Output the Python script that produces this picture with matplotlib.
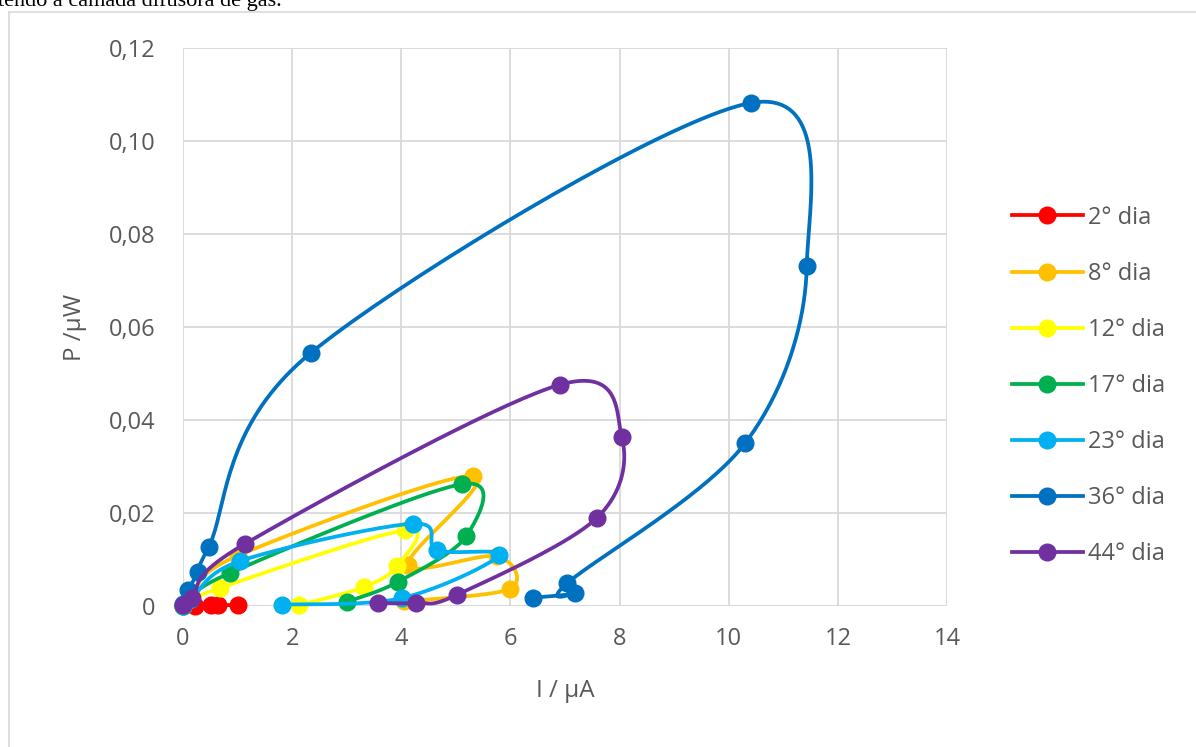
import matplotlib
matplotlib.use("Agg")
import matplotlib.pyplot as plt
import numpy as np
from matplotlib.lines import Line2D
from matplotlib.ticker import FuncFormatter

# series (I / uA, P / uW), in drawing order
i_2 = [0.0, 0.22, 0.52, 0.65, 1.0]
p_2 = [0.0, 0.0001, 0.0002, 0.0002, 0.0002]

i_8 = [0.0, 0.15, 1.0, 5.31, 4.13, 5.75, 5.99, 4.05]
p_8 = [0.0, 0.002, 0.0108, 0.0280, 0.0089, 0.0107, 0.0037, 0.0010]

i_12 = [0.0, 0.68, 4.07, 3.92, 3.32, 2.13]
p_12 = [0.0, 0.0039, 0.0163, 0.0086, 0.0041, 0.0002]

i_17 = [0.0, 0.86, 5.11, 5.19, 3.94, 3.0]
p_17 = [0.0, 0.0071, 0.0262, 0.0150, 0.0052, 0.0009]

i_23 = [0.0, 0.15, 1.05, 4.21, 4.65, 5.79, 4.01, 1.81]
p_23 = [0.0, 0.0015, 0.0097, 0.0177, 0.0120, 0.0109, 0.0017, 0.0003]

i_36 = [0.0, 0.09, 0.28, 0.47, 2.34, 10.41, 11.43, 10.3, 7.04, 7.18, 6.41]
p_36 = [0.0005, 0.0034, 0.0073, 0.0127, 0.0544, 0.1082, 0.0731, 0.0350, 0.0049, 0.0028, 0.0018]

i_44 = [0.0, 0.16, 1.14, 6.91, 8.04, 7.58, 5.02, 4.27, 3.57]
p_44 = [0.0002, 0.0017, 0.0134, 0.0476, 0.0363, 0.0189, 0.0024, 0.0007, 0.0007]

labels = ["2° dia", "8° dia", "12° dia", "17° dia", "23° dia", "36° dia", "44° dia"]
colors = ["#FF0000", "#FFC000", "#FFFF00", "#00B050", "#00B0F0", "#0070C0", "#7030A0"]
series = [(i_2, p_2), (i_8, p_8), (i_12, p_12), (i_17, p_17),
          (i_23, p_23), (i_36, p_36), (i_44, p_44)]

TXT = "#595959"
GRID = "#D9D9D9"


def smooth(xs, ys, n=40):
    # excel-like smoothed scatter: bezier with catmull-rom control points
    p = np.column_stack([xs, ys]).astype(float)
    pad = np.vstack([p[0], p, p[-1]])
    t = np.linspace(0, 1, n)[:, None]
    out = []
    for k in range(len(p) - 1):
        p0, p1, p2, p3 = pad[k], pad[k + 1], pad[k + 2], pad[k + 3]
        c1 = p1 + (p2 - p0) / 6
        c2 = p2 - (p3 - p1) / 6
        seg = (1 - t)**3 * p1 + 3 * (1 - t)**2 * t * c1 + 3 * (1 - t) * t**2 * c2 + t**3 * p2
        out.append(seg if k == 0 else seg[1:])
    return np.vstack(out)


plt.rcParams['font.family'] = ['Open Sans', 'DejaVu Sans']

fig = plt.figure(figsize=(11.96, 7.47), dpi=100)
ax = fig.add_axes([183 / 1196, 1 - 606 / 747, 764 / 1196, 558 / 747])

LW = 2.7
MS = 12
handles = []
for idx, ((xs, ys), clr, lab) in enumerate(zip(series, colors, labels)):
    cur = smooth(xs, ys)
    ax.plot(cur[:, 0], cur[:, 1], color=clr, lw=LW, zorder=3 + idx,
            solid_capstyle='round', clip_on=False)
    ax.plot(xs, ys, 'o', color=clr, ms=MS, zorder=3 + idx, clip_on=False)
    handles.append(Line2D([], [], color=clr, lw=LW, marker='o', ms=MS))

ax.set_xlim(0, 14)
ax.set_ylim(0, 0.12)
ax.set_xticks(np.arange(0, 15, 2))
ax.set_yticks(np.arange(0, 0.121, 0.02))
ax.yaxis.set_major_formatter(FuncFormatter(
    lambda v, _: "0" if abs(v) < 1e-9 else f"{v:.2f}".replace(".", ",")))
ax.tick_params(length=0, labelsize=17, colors=TXT)
ax.tick_params(axis='x', pad=15)
ax.tick_params(axis='y', pad=20)
ax.grid(True, color=GRID, lw=1.3)
ax.set_axisbelow(True)
for s in ax.spines.values():
    s.set_visible(False)
ax.axhline(0, color=GRID, lw=1.5, zorder=1)

ax.set_ylabel("P /µW", fontsize=17.5, color=TXT)
ax.set_xlabel("I / µA", fontsize=17.5, color=TXT)
ax.yaxis.set_label_coords(-0.126, 0.5)
ax.xaxis.set_label_coords(0.5, -0.13)

fig.legend(handles, labels, loc='center left', bbox_to_anchor=(1012 / 1196, 1 - 386 / 747),
           frameon=False, fontsize=17, labelcolor=TXT, handlelength=3.0,
           handletextpad=0.2, labelspacing=1.36, borderaxespad=0, borderpad=0)

# frame of the chart box and the cut-off document line above it
fig.add_artist(Line2D([9 / 1196, 9 / 1196], [0, 1 - 12 / 747], color=GRID, lw=1.2,
                      transform=fig.transFigure))
fig.add_artist(Line2D([9 / 1196, 1], [1 - 12 / 747, 1 - 12 / 747], color=GRID, lw=1.2,
                      transform=fig.transFigure))
fig.text(-0.002, 1 - 6 / 747, "tendo a camada difusora de gás.", fontsize=16,
         family='Liberation Serif', color='black', va='baseline', ha='left')

fig.savefig("out.png", dpi=100)
